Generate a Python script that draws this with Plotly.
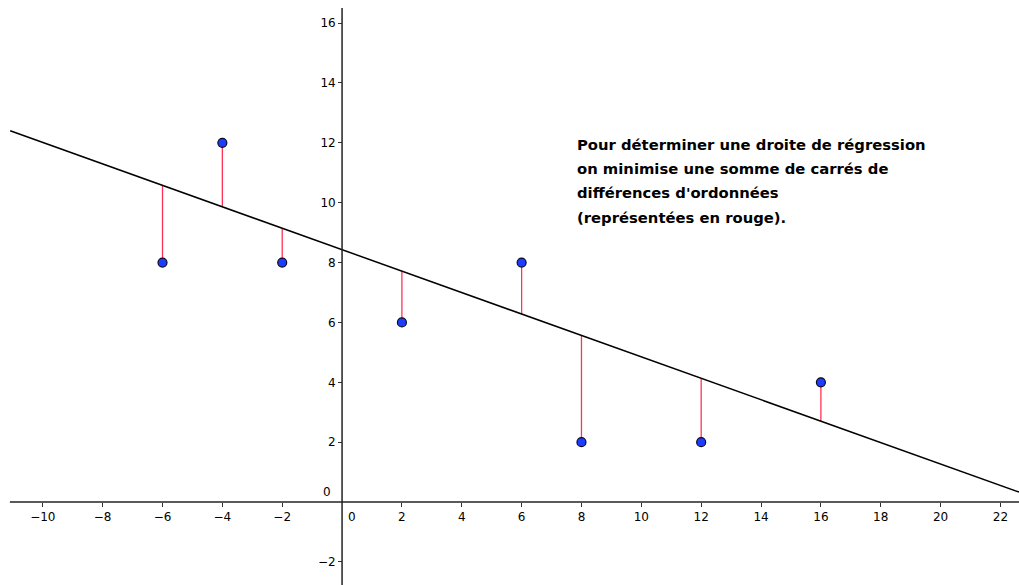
import plotly.graph_objects as go

# ---- data ----
point_x = [-6, -4, -2, 2, 6, 8, 12, 16]
point_y = [8, 12, 8, 6, 8, 2, 2, 4]
line_slope = [-0.358]
line_intercept = [8.43]
line_x_start = [-11.09]
x_tick_vals = [-10, -8, -6, -4, -2, 2, 4, 6, 8, 10, 12, 14, 16, 18, 20, 22]
y_tick_vals = [-2, 2, 4, 6, 8, 10, 12, 14, 16]
note_lines = [
    "Pour déterminer une droite de régression",
    "on minimise une somme de carrés de",
    "différences d'ordonnées",
    "(représentées en rouge).",
]

X_RANGE = [-11.43, 22.62]
Y_RANGE = [-2.77, 16.77]

a = line_slope[0]
b = line_intercept[0]

fig = go.Figure()

# residual segments
for px_, py_ in zip(point_x, point_y):
    fig.add_trace(go.Scatter(
        x=[px_, px_], y=[py_, a * px_ + b], mode="lines",
        line=dict(color="#ff3355", width=1.3), hoverinfo="skip", showlegend=False))

# regression line
lx = [line_x_start[0], X_RANGE[1]]
fig.add_trace(go.Scatter(
    x=lx, y=[a * v + b for v in lx], mode="lines",
    line=dict(color="black", width=1.5), showlegend=False))

# points
fig.add_trace(go.Scatter(
    x=point_x, y=point_y, mode="markers",
    marker=dict(size=9, color="#1c3cff", line=dict(color="#0a0a20", width=1.2)),
    showlegend=False))

font = dict(family="DejaVu Sans", size=12, color="black")

fig.update_layout(
    width=1019, height=585,
    margin=dict(l=0, r=0, t=0, b=0, pad=0),
    plot_bgcolor="white", paper_bgcolor="white",
    showlegend=False,
    xaxis=dict(
        range=X_RANGE, anchor="free", automargin=False,
        position=(0 - Y_RANGE[0]) / (Y_RANGE[1] - Y_RANGE[0]),
        showgrid=False, zeroline=False, showline=False,
        tickmode="array", tickvals=x_tick_vals,
        ticktext=["\u2212" + str(-v) if v < 0 else str(v) for v in x_tick_vals],
        ticks="outside", ticklen=4, tickwidth=1, tickcolor="#333",
        tickfont=font,
    ),
    yaxis=dict(
        range=Y_RANGE, anchor="free", automargin=False,
        position=(0 - X_RANGE[0]) / (X_RANGE[1] - X_RANGE[0]),
        showgrid=False, zeroline=False, showline=False,
        tickmode="array", tickvals=y_tick_vals,
        ticktext=["\u2212" + str(-v) if v < 0 else str(v) for v in y_tick_vals],
        ticks="outside", ticklen=4, tickwidth=1, tickcolor="#333",
        tickfont=font,
    ),
)

# axis lines
fig.add_shape(type="line", xref="x", yref="y", x0=-11.1, x1=X_RANGE[1], y0=0, y1=0,
              line=dict(color="#222", width=1.5))
fig.add_shape(type="line", xref="x", yref="y", x0=0, x1=0, y0=Y_RANGE[0], y1=16.5,
              line=dict(color="#222", width=1.5))

# origin labels
fig.add_annotation(x=0, y=0, xref="x", yref="y", text="0", showarrow=False,
                   xanchor="center", yanchor="top", xshift=10, yshift=-6, font=font)
fig.add_annotation(x=0, y=0, xref="x", yref="y", text="0", showarrow=False,
                   xanchor="right", yanchor="bottom", xshift=-9, yshift=1, font=font)

# note, one annotation per line for the wider line spacing
for i, txt in enumerate(note_lines):
    fig.add_annotation(
        x=7.8, y=12.3, xref="x", yref="y", text=txt,
        showarrow=False, xanchor="left", yanchor="top", align="left",
        yshift=-24.3 * i,
        font=dict(family="DejaVu Sans", size=14.8, color="black", weight="bold"))

fig.write_html("out.html", config={"displayModeBar": False},
               post_script="document.body.style.margin='0';")
